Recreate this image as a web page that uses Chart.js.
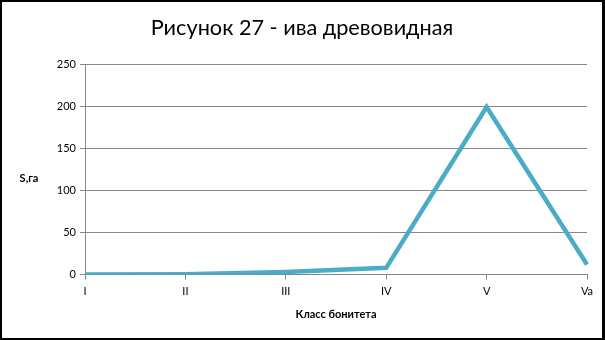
<!DOCTYPE html>
<html>
<head>
<meta charset="utf-8">
<script src="https://cdn.jsdelivr.net/npm/chart.js@4.4.0/dist/chart.umd.min.js"></script>
<style>
    html, body { margin: 0; padding: 0; background: #fff; }
    #frame {
        width: 605px; height: 340px; box-sizing: border-box;
        border-style: solid; border-color: #000;
        border-width: 2px 3px 2px 2px;
        background: #fff;
    }
    #wrap { position: relative; width: 600px; height: 336px; }
</style>
</head>
<body>
<div id="frame"><div id="wrap"><canvas id="chart"></canvas></div></div>
<script>
// Data
const classes = ['I', 'II', 'III', 'IV', 'V', 'Va'];
const area = [0, 0.5, 3, 8, 199, 12];
const yTicks = [0, 50, 100, 150, 200, 250];

const chartTitle = 'Рисунок 27 - ива древовидная';
const yTitle = 'S,га';
const xTitle = 'Класс бонитета';

const FONT = 'Lato, "Open Sans", sans-serif';
const GRID = '#868686';

// Horizontal y axis title (Chart.js only draws it rotated)
const yTitlePlugin = {
    id: 'yTitle',
    afterDraw(chart) {
        const ctx = chart.ctx;
        const a = chart.chartArea;
        ctx.save();
        ctx.font = 'bold 11px ' + FONT;
        ctx.fillStyle = '#000';
        ctx.textAlign = 'center';
        ctx.textBaseline = 'middle';
        ctx.fillText(yTitle, 27, (a.top + a.bottom) / 2 + 9);
        ctx.restore();
    }
};

new Chart(document.getElementById('chart'), {
    type: 'line',
    data: {
        labels: classes,
        datasets: [{
            data: area,
            borderColor: '#4BACC6',
            backgroundColor: '#4BACC6',
            borderWidth: 4.5,
            pointRadius: 0,
            tension: 0,
            fill: false
        }]
    },
    options: {
        responsive: true,
        maintainAspectRatio: false,
        animation: false,
        layout: { padding: { left: 15, right: 15, top: 0, bottom: 17 } },
        plugins: {
            legend: { display: false },
            tooltip: { enabled: false },
            title: {
                display: true,
                text: chartTitle,
                color: '#000',
                font: { family: FONT, size: 21.7, weight: 'normal' },
                padding: { top: 13, bottom: 23 }
            }
        },
        scales: {
            x: {
                offset: false,
                grid: {
                    drawOnChartArea: false,
                    drawTicks: true,
                    tickLength: 5,
                    color: GRID
                },
                border: { display: true, color: GRID },
                ticks: {
                    color: '#000',
                    font: { family: FONT, size: 11 },
                    padding: 5,
                    maxRotation: 0
                },
                title: {
                    display: true,
                    text: xTitle,
                    color: '#000',
                    font: { family: FONT, size: 11, weight: 'bold' },
                    padding: { top: 5, bottom: 0 }
                }
            },
            y: {
                min: 0,
                max: 250,
                afterBuildTicks(scale) {
                    scale.ticks = yTicks.map(v => ({ value: v }));
                },
                afterFit(scale) {
                    scale.width = 68;
                },
                grid: {
                    color: GRID,
                    drawTicks: true,
                    tickLength: 5
                },
                border: { display: true, color: GRID },
                ticks: {
                    color: '#000',
                    font: { family: FONT, size: 11 },
                    padding: 4
                }
            }
        }
    },
    plugins: [yTitlePlugin]
});
</script>
</body>
</html>
